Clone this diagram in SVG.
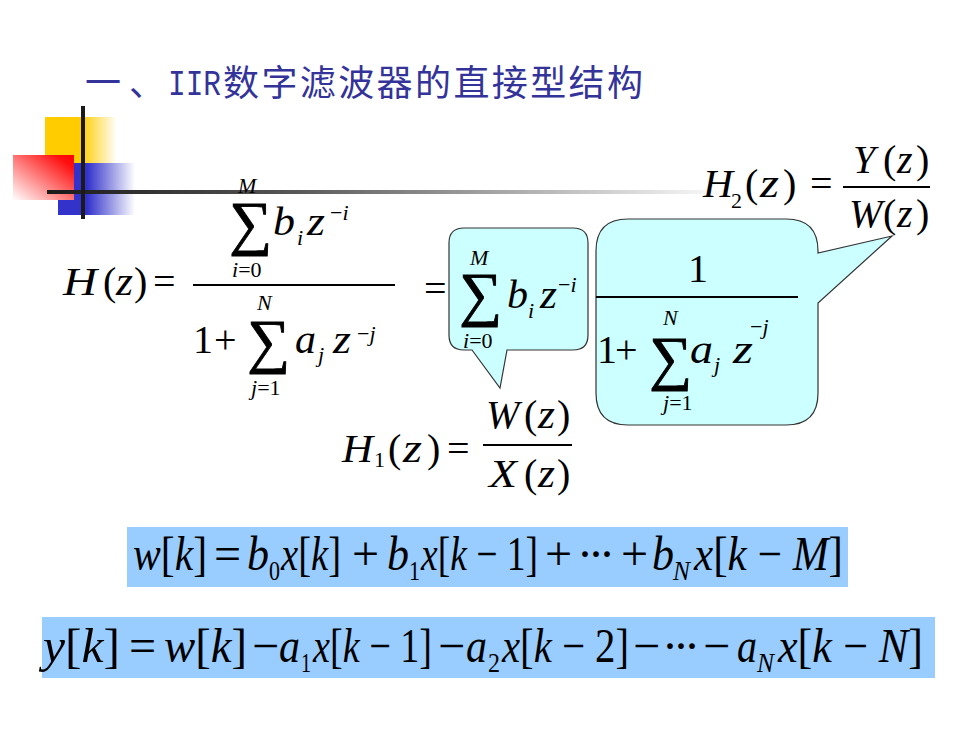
<svg xmlns="http://www.w3.org/2000/svg" width="980" height="735" viewBox="0 0 980 735">
<defs>
<style>
.m{font-family:"Liberation Serif","Times New Roman",serif;font-size:40px;fill:#000}
.s{font-size:22px}
.i{font-style:italic}
.sum{font-size:60px;stroke:#000;stroke-width:0.9}
.b{font-family:"Liberation Serif","Times New Roman",serif;font-size:48px;fill:#000}
.bs{font-size:27px}
.callout{fill:#ccffff;stroke:#333;stroke-width:1.2}
.eqbox{fill:#99ccff}
.title{font-family:"Noto Sans CJK SC","Noto Sans",sans-serif;font-size:36px;fill:#333399}
</style>
<linearGradient id="gy" x1="0" y1="0" x2="1" y2="0">
<stop offset="0" stop-color="#ffcc00"/><stop offset="0.5" stop-color="#ffcc00"/><stop offset="1" stop-color="#ffcc00" stop-opacity="0"/>
</linearGradient>
<linearGradient id="gb" x1="0" y1="0" x2="1" y2="0">
<stop offset="0" stop-color="#3333cc"/><stop offset="0.38" stop-color="#3333cc"/><stop offset="1" stop-color="#3333cc" stop-opacity="0"/>
</linearGradient>
<linearGradient id="gr" x1="1" y1="0" x2="0" y2="1">
<stop offset="0" stop-color="#ff0000"/><stop offset="0.15" stop-color="#ff1010"/><stop offset="1" stop-color="#ffffff"/>
</linearGradient>
<linearGradient id="gl" gradientUnits="userSpaceOnUse" x1="47" y1="0" x2="730" y2="0">
<stop offset="0" stop-color="#1a1a1a"/><stop offset="0.35" stop-color="#555"/><stop offset="0.7" stop-color="#b0b0b0"/><stop offset="1" stop-color="#ffffff"/>
</linearGradient>
</defs>
<rect width="980" height="735" fill="#fff"/>

<g id="decoration">
<rect x="45" y="117" width="72" height="46" fill="url(#gy)"/>
<rect x="58" y="163" width="77" height="52" fill="url(#gb)"/>
<rect x="13" y="155" width="61" height="45" fill="url(#gr)"/>
<rect x="47" y="190" width="683" height="4" fill="url(#gl)"/>
<rect x="81" y="106" width="4" height="113" fill="#1a1a1a"/>
</g>

<g id="title">
<text class="title" x="85" y="96" textLength="80" lengthAdjust="spacing">一、</text>
<text x="168" y="95" font-family="Liberation Mono,monospace" font-size="37" fill="#333399" textLength="53" lengthAdjust="spacingAndGlyphs">IIR</text>
<text class="title" x="223" y="96" textLength="420" lengthAdjust="spacing">数字滤波器的直接型结构</text>
</g>

<g id="connectors"></g>

<g id="hz-formula" class="m">
<text x="63" y="295" class="i" textLength="34" lengthAdjust="spacingAndGlyphs">H</text>
<text x="103" y="295">(</text>
<text x="116" y="295" class="i" textLength="17" lengthAdjust="spacingAndGlyphs">z</text>
<text x="134" y="295">)</text>
<text x="153" y="295">=</text>
<line x1="193" y1="285" x2="395" y2="285" stroke="#000" stroke-width="2"/>
<text x="238" y="193" class="s i">M</text>
<text x="229" y="243" class="sum">∑</text>
<text x="273" y="235" class="i" textLength="22" lengthAdjust="spacingAndGlyphs">b</text>
<text x="297" y="245" class="s i">i</text>
<text x="307" y="235" class="i" textLength="18" lengthAdjust="spacingAndGlyphs">z</text>
<text x="330" y="220" class="s">−<tspan class="i">i</tspan></text>
<text x="232" y="277" class="s"><tspan class="i">i</tspan>=0</text>
<text x="193" y="353">1</text>
<text x="214" y="353">+</text>
<text x="257" y="310" class="s i">N</text>
<text x="247" y="361" class="sum">∑</text>
<text x="295" y="353" class="i" textLength="21" lengthAdjust="spacingAndGlyphs">a</text>
<text x="318" y="362" class="s i">j</text>
<text x="333" y="353" class="i" textLength="18" lengthAdjust="spacingAndGlyphs">z</text>
<text x="357" y="341" class="s">−<tspan class="i">j</tspan></text>
<text x="251" y="395" class="s"><tspan class="i">j</tspan>=1</text>
<text x="424" y="302">=</text>
</g>

<g id="callout-h1-numerator">
<path class="callout" d="M464,228 H573 Q588,228 588,243 V335 Q588,350 573,350 H507 L500,388 L472,350 H464 Q449,350 449,335 V243 Q449,228 464,228 Z"/>
<g class="m">
<text x="470" y="265" class="s i">M</text>
<text x="459" y="314" class="sum">∑</text>
<text x="507" y="308" class="i" textLength="21" lengthAdjust="spacingAndGlyphs">b</text>
<text x="528" y="318" class="s i">i</text>
<text x="540" y="308" class="i" textLength="17" lengthAdjust="spacingAndGlyphs">z</text>
<text x="558" y="292" class="s">−<tspan class="i">i</tspan></text>
<text x="463" y="348" class="s"><tspan class="i">i</tspan>=0</text>
</g>
</g>

<g id="callout-h2-denominator">
<path class="callout" d="M628,219 H786 Q818,219 818,251 V253 L892,236 L818,303 V393 Q818,425 786,425 H628 Q596,425 596,393 V251 Q596,219 628,219 Z"/>
<g class="m">
<text x="688" y="282">1</text>
<line x1="596" y1="297" x2="798" y2="297" stroke="#000" stroke-width="2"/>
<text x="597" y="363">1</text>
<text x="615" y="363">+</text>
<text x="663" y="325" class="s i">N</text>
<text x="649" y="378" class="sum">∑</text>
<text x="690" y="363" class="i" textLength="23" lengthAdjust="spacingAndGlyphs">a</text>
<text x="714" y="372" class="s i">j</text>
<text x="733" y="363" class="i" textLength="20" lengthAdjust="spacingAndGlyphs">z</text>
<text x="750" y="334" class="s">−<tspan class="i">j</tspan></text>
<text x="663" y="410" class="s"><tspan class="i">j</tspan>=1</text>
</g>
</g>

<g id="h2-formula" class="m">
<text x="703" y="197" class="i" textLength="30" lengthAdjust="spacingAndGlyphs">H</text>
<text x="731" y="208" class="s">2</text>
<text x="745" y="197">(</text>
<text x="760" y="197" class="i" textLength="19" lengthAdjust="spacingAndGlyphs">z</text>
<text x="783" y="197">)</text>
<text x="810" y="197">=</text>
<line x1="843" y1="187" x2="930" y2="187" stroke="#000" stroke-width="2"/>
<text x="853" y="173" class="i">Y</text>
<text x="883" y="173">(</text>
<text x="897" y="173" class="i">z</text>
<text x="916" y="173">)</text>
<text x="849" y="227" class="i">W</text>
<text x="883" y="227">(</text>
<text x="897" y="227" class="i">z</text>
<text x="916" y="227">)</text>
</g>

<g id="h1-formula" class="m">
<text x="342" y="462" class="i" textLength="31" lengthAdjust="spacingAndGlyphs">H</text>
<text x="374" y="467" class="s">1</text>
<text x="388" y="462">(</text>
<text x="403" y="462" class="i" textLength="19" lengthAdjust="spacingAndGlyphs">z</text>
<text x="427" y="462">)</text>
<text x="447" y="462">=</text>
<line x1="483" y1="445" x2="572" y2="445" stroke="#000" stroke-width="2"/>
<text x="486" y="428" class="i">W</text>
<text x="524" y="428">(</text>
<text x="538" y="428" class="i" textLength="17" lengthAdjust="spacingAndGlyphs">z</text>
<text x="557" y="428">)</text>
<text x="489" y="487" class="i" textLength="28" lengthAdjust="spacingAndGlyphs">X</text>
<text x="524" y="487">(</text>
<text x="538" y="487" class="i" textLength="17" lengthAdjust="spacingAndGlyphs">z</text>
<text x="557" y="487">)</text>
</g>

<g id="eq-w">
<rect class="eqbox" x="127" y="527" width="721" height="60"/>
<g class="b">
<text x="133" y="570" textLength="74" lengthAdjust="spacingAndGlyphs"><tspan class="i">w</tspan>[<tspan class="i">k</tspan>]</text>
<text x="214" y="570">=</text>
<text x="247" y="570" class="i" textLength="22" lengthAdjust="spacingAndGlyphs">b</text>
<text x="269" y="580" class="bs" textLength="11" lengthAdjust="spacingAndGlyphs">0</text>
<text x="281" y="570" textLength="60" lengthAdjust="spacingAndGlyphs"><tspan class="i">x</tspan>[<tspan class="i">k</tspan>]</text>
<text x="352" y="570">+</text>
<text x="387" y="570" class="i" textLength="22" lengthAdjust="spacingAndGlyphs">b</text>
<text x="409" y="580" class="bs" textLength="11" lengthAdjust="spacingAndGlyphs">1</text>
<text x="421" y="570" textLength="117" lengthAdjust="spacingAndGlyphs"><tspan class="i">x</tspan>[<tspan class="i">k</tspan> − 1]</text>
<text x="545" y="570">+</text>
<text x="577" y="570" textLength="38" lengthAdjust="spacing">···</text>
<text x="621" y="570">+</text>
<text x="652" y="570" class="i" textLength="22" lengthAdjust="spacingAndGlyphs">b</text>
<text x="673" y="580" class="bs i" textLength="17" lengthAdjust="spacingAndGlyphs">N</text>
<text x="694" y="570" textLength="149" lengthAdjust="spacingAndGlyphs"><tspan class="i">x</tspan>[<tspan class="i">k</tspan> − <tspan class="i">M</tspan>]</text>
</g>
</g>

<g id="eq-y">
<rect class="eqbox" x="42" y="617" width="893" height="61"/>
<g class="b">
<text x="43" y="662" textLength="77" lengthAdjust="spacingAndGlyphs"><tspan class="i">y</tspan>[<tspan class="i">k</tspan>]</text>
<text x="129" y="662">=</text>
<text x="164" y="662" textLength="83" lengthAdjust="spacingAndGlyphs"><tspan class="i">w</tspan>[<tspan class="i">k</tspan>]</text>
<text x="252" y="662">−</text>
<text x="279" y="662" class="i" textLength="21" lengthAdjust="spacingAndGlyphs">a</text>
<text x="301" y="672" class="bs" textLength="10" lengthAdjust="spacingAndGlyphs">1</text>
<text x="313" y="662" textLength="119" lengthAdjust="spacingAndGlyphs"><tspan class="i">x</tspan>[<tspan class="i">k</tspan> − 1]</text>
<text x="438" y="662">−</text>
<text x="466" y="662" class="i" textLength="21" lengthAdjust="spacingAndGlyphs">a</text>
<text x="488" y="672" class="bs" textLength="12" lengthAdjust="spacingAndGlyphs">2</text>
<text x="502" y="662" textLength="127" lengthAdjust="spacingAndGlyphs"><tspan class="i">x</tspan>[<tspan class="i">k</tspan> − 2]</text>
<text x="633" y="662">−</text>
<text x="662" y="662" textLength="38" lengthAdjust="spacing">···</text>
<text x="703" y="662">−</text>
<text x="737" y="662" class="i" textLength="20" lengthAdjust="spacingAndGlyphs">a</text>
<text x="757" y="672" class="bs i" textLength="17" lengthAdjust="spacingAndGlyphs">N</text>
<text x="778" y="662" textLength="145" lengthAdjust="spacingAndGlyphs"><tspan class="i">x</tspan>[<tspan class="i">k</tspan> − <tspan class="i">N</tspan>]</text>
</g>
</g>
</svg>
